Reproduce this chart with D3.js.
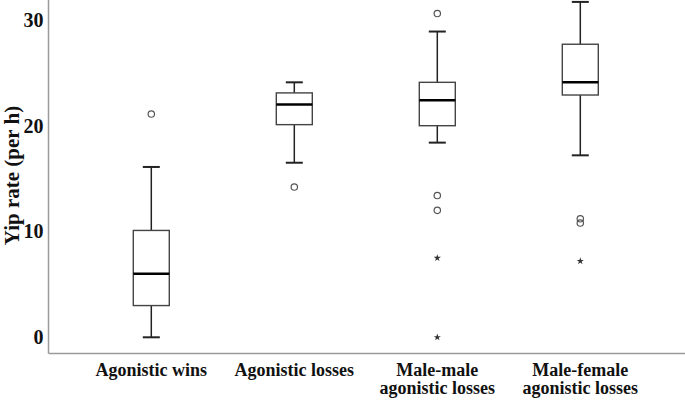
<!DOCTYPE html>
<html>
<head>
<meta charset="utf-8">
<script src="https://cdn.jsdelivr.net/npm/d3@7"></script>
<style>
  html, body { margin: 0; padding: 0; background: #fff; }
  svg { display: block; }
  text { font-family: "Liberation Serif", "Times New Roman", serif; font-weight: bold; fill: #111; }
</style>
</head>
<body>
<svg id="chart" width="685" height="402"></svg>
<script>
// ---- data ----
const categories = ["Agonistic wins", "Agonistic losses", "Male-male agonistic losses", "Male-female agonistic losses"];
const labelLines = [["Agonistic wins"], ["Agonistic losses"], ["Male-male", "agonistic losses"], ["Male-female", "agonistic losses"]];
const whiskerLow  = [0.0, 16.5, 18.4, 17.2];
const q1          = [3.0, 20.1, 20.0, 22.9];
const median      = [6.0, 22.0, 22.4, 24.1];
const q3          = [10.1, 23.1, 24.1, 27.7];
const whiskerHigh = [16.1, 24.1, 28.9, 31.7];
const outliers    = [[21.1], [14.2], [30.6, 13.4, 12.0], [11.2, 10.8]];
const extremes    = [[], [], [7.5, 0.0], [7.2]];
const yTicks      = [0, 10, 20, 30];
const yTitle      = "Yip rate (per h)";

// ---- layout ----
const svg = d3.select("#chart");
const x = d3.scalePoint().domain(categories).range([151.3, 580.3]);
const y = d3.scaleLinear().domain([0, 30]).range([337.3, 19.9]);
const boxW = 36, capW = 17;
const axisX = 48.5, axisY = 353.5;

const rows = categories.map((c, i) => ({
  c, lo: whiskerLow[i], q1: q1[i], med: median[i], q3: q3[i], hi: whiskerHigh[i],
  out: outliers[i], ext: extremes[i], lines: labelLines[i]
}));

// axes lines
svg.append("line").attr("x1", axisX).attr("x2", axisX).attr("y1", 0).attr("y2", axisY)
  .attr("stroke", "#9a9a9a").attr("stroke-width", 1.5);
svg.append("line").attr("x1", axisX).attr("x2", 685).attr("y1", axisY).attr("y2", axisY)
  .attr("stroke", "#9a9a9a").attr("stroke-width", 1.5);

// y axis tick labels
const yAxis = d3.axisLeft(y).tickValues(yTicks).tickSize(0).tickPadding(0).tickFormat(d3.format("d"));
const gy = svg.append("g").attr("transform", `translate(${axisX - 5},0)`).call(yAxis);
gy.select(".domain").remove();
gy.selectAll("text").style("font-family", '"Liberation Serif", serif').style("font-weight", "bold")
  .style("font-size", "20px").attr("fill", "#111");

// y title
svg.append("text")
  .attr("transform", `translate(19,${(103 + 248) / 2}) rotate(-90)`)
  .attr("text-anchor", "middle")
  .style("font-size", "21px")
  .text(yTitle);

// boxes
const g = svg.append("g");
const groups = g.selectAll("g.box").data(rows).join("g").attr("class", "box");

// whiskers
groups.append("line")
  .attr("x1", d => x(d.c)).attr("x2", d => x(d.c))
  .attr("y1", d => y(d.hi)).attr("y2", d => y(d.q3))
  .attr("stroke", "#222").attr("stroke-width", 1.5);
groups.append("line")
  .attr("x1", d => x(d.c)).attr("x2", d => x(d.c))
  .attr("y1", d => y(d.q1)).attr("y2", d => y(d.lo))
  .attr("stroke", "#222").attr("stroke-width", 1.5);
// caps
groups.append("line")
  .attr("x1", d => x(d.c) - capW / 2).attr("x2", d => x(d.c) + capW / 2)
  .attr("y1", d => y(d.hi)).attr("y2", d => y(d.hi))
  .attr("stroke", "#222").attr("stroke-width", 2);
groups.append("line")
  .attr("x1", d => x(d.c) - capW / 2).attr("x2", d => x(d.c) + capW / 2)
  .attr("y1", d => y(d.lo)).attr("y2", d => y(d.lo))
  .attr("stroke", "#222").attr("stroke-width", 2);
// box
groups.append("rect")
  .attr("x", d => x(d.c) - boxW / 2).attr("width", boxW)
  .attr("y", d => y(d.q3)).attr("height", d => y(d.q1) - y(d.q3))
  .attr("fill", "#fff").attr("stroke", "#444").attr("stroke-width", 1.4);
// median
groups.append("line")
  .attr("x1", d => x(d.c) - boxW / 2).attr("x2", d => x(d.c) + boxW / 2)
  .attr("y1", d => y(d.med)).attr("y2", d => y(d.med))
  .attr("stroke", "#000").attr("stroke-width", 2.6);

// outliers (circles)
groups.selectAll("circle").data(d => d.out.map(v => ({ c: d.c, v }))).join("circle")
  .attr("cx", d => x(d.c)).attr("cy", d => y(d.v)).attr("r", 3.2)
  .attr("fill", "none").attr("stroke", "#555").attr("stroke-width", 1.2);

// extremes (stars)
const star = d3.symbol().type(d3.symbolStar).size(16);
groups.selectAll("path.ext").data(d => d.ext.map(v => ({ c: d.c, v }))).join("path")
  .attr("class", "ext")
  .attr("d", star)
  .attr("transform", d => `translate(${x(d.c)},${y(d.v)})`)
  .attr("fill", "#333");

// category labels
const lab = svg.append("g").selectAll("text").data(rows).join("text")
  .attr("text-anchor", "middle")
  .style("font-size", "18px");
lab.selectAll("tspan").data(d => d.lines.map((t, j) => ({ t, j, c: d.c }))).join("tspan")
  .attr("x", d => x(d.c)).attr("y", d => 375.7 + d.j * 18.7)
  .text(d => d.t);
</script>
</body>
</html>
